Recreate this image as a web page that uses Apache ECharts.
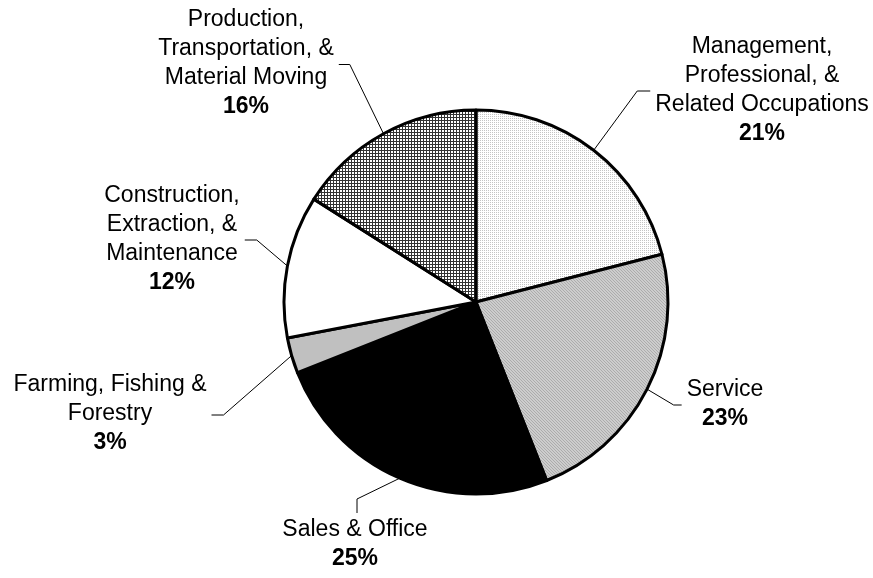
<!DOCTYPE html>
<html>
<head>
<meta charset="utf-8">
<script src="https://cdn.jsdelivr.net/npm/echarts@6/dist/echarts.min.js"></script>
<style>
  html, body { margin: 0; padding: 0; background: #fff; }
  #chart { width: 873px; height: 578px; }
</style>
</head>
<body>
<div id="chart"></div>
<script>
// Employment by occupation group, share of total (%)
const categories = [
  'Management,\nProfessional, &\nRelated Occupations',
  'Service',
  'Sales & Office',
  'Farming, Fishing &\nForestry',
  'Construction,\nExtraction, &\nMaintenance',
  'Production,\nTransportation, &\nMaterial Moving'
];
const shares = [21, 23, 25, 3, 12, 16];

// Where each text block sits and where its leader line enters it
const labelSpots = [
  { cx: 762, cy: 90,   side: 'left',  elbow: 13 },
  { cx: 725, cy: 404,  side: 'left',  elbow: 8 },
  { cx: 355, cy: 544,  side: 'top',   elbow: 14 },
  { cx: 110, cy: 414,  side: 'right', elbow: 12 },
  { cx: 172, cy: 239,  side: 'right', elbow: 12 },
  { cx: 246, cy: 63.5, side: 'right', elbow: 11 }
];

// Small repeating fill textures
function tile(size, bg, fg, hit) {
  const c = document.createElement('canvas');
  c.width = size; c.height = size;
  const g = c.getContext('2d');
  g.fillStyle = bg; g.fillRect(0, 0, size, size);
  g.fillStyle = fg;
  for (let y = 0; y < size; y++) {
    for (let x = 0; x < size; x++) {
      if (hit(x, y)) g.fillRect(x, y, 1, 1);
    }
  }
  return { image: c, repeat: 'repeat' };
}
const fills = [
  tile(2, '#ffffff', '#c4c4c4', (x, y) => x === 0 && y === 0),
  tile(3, '#cdcdcd', '#acacac', (x, y) => ((x - y + 3) % 3) === 0),
  '#000000',
  '#c0c0c0',
  '#ffffff',
  tile(3, '#ffffff', '#333333', (x, y) => x === 0 || y === 0)
];

const FONT = '"Liberation Sans", Arial, sans-serif';
const chart = echarts.init(document.getElementById('chart'), null, { renderer: 'canvas' });

chart.setOption({
  animation: false,
  backgroundColor: '#ffffff',
  series: [{
    type: 'pie',
    center: [476, 302],
    radius: 192,
    startAngle: 90,
    clockwise: true,
    avoidLabelOverlap: false,
    emphasis: { disabled: true },
    itemStyle: { borderColor: '#000', borderWidth: 3 },
    label: {
      show: true,
      position: 'outside',
      fontFamily: FONT,
      fontSize: 23,
      lineHeight: 29,
      color: '#000',
      formatter: p => '{n|' + p.name + '}\n{b|' + p.value + '%}',
      rich: {
        n: { fontFamily: FONT, fontSize: 23, lineHeight: 29, color: '#000', align: 'center' },
        b: { fontFamily: FONT, fontSize: 23, lineHeight: 29, color: '#000', fontWeight: 'bold', align: 'center' }
      }
    },
    labelLine: {
      show: true,
      length: 20,
      length2: 10,
      lineStyle: { color: '#000', width: 1 }
    },
    labelLayout: function (params) {
      const spot = labelSpots[params.dataIndex];
      const w = params.labelRect.width;
      const h = params.labelRect.height;
      const edge = params.labelLinePoints[0];
      let end, knee;
      if (spot.side === 'left') {
        end = [spot.cx - w / 2 - 5, spot.cy + 1];
        knee = [end[0] - spot.elbow, end[1]];
      } else if (spot.side === 'right') {
        end = [spot.cx + w / 2 + 5, spot.cy + 1];
        knee = [end[0] + spot.elbow, end[1]];
      } else {
        end = [spot.cx + 2, spot.cy - h / 2 - 2];
        knee = [end[0], end[1] - spot.elbow];
      }
      return {
        x: spot.cx,
        y: spot.cy,
        align: 'center',
        verticalAlign: 'middle',
        labelLinePoints: [edge, knee, end]
      };
    },
    data: categories.map((name, i) => ({
      name: name,
      value: shares[i],
      itemStyle: { color: fills[i] }
    }))
  }]
});
</script>
</body>
</html>
